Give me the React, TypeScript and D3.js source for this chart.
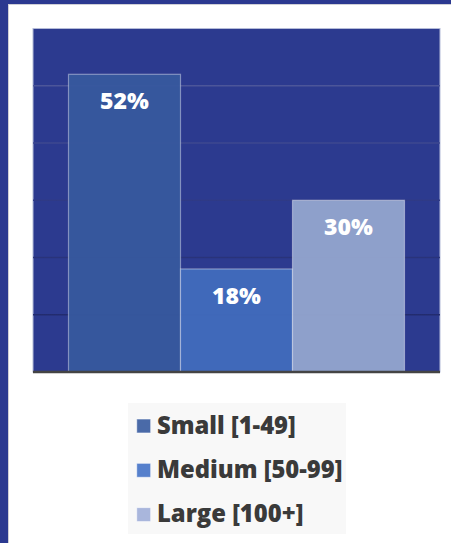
import React from "react";
import * as d3 from "d3";

// Company size share
const categories: string[] = ["Small [1-49]", "Medium [50-99]", "Large [100+]"];
const values: number[] = [52, 18, 30];
const barColors: string[] = ["#37599e", "#416bbd", "#94a5cf"];
const swatchColors: string[] = ["#4a6aa8", "#5680cc", "#a9b6dc"];
const gridTicks: number[] = [10, 20, 30, 40, 50];

const W = 451;
const H = 543;
const plot = { left: 33, right: 440, top: 28.5, bottom: 372 };

export default function App() {
  const x = d3
    .scaleBand<string>()
    .domain(categories)
    .range([plot.left, plot.right])
    .paddingInner(0)
    .paddingOuter(0.317);
  const y = d3.scaleLinear().domain([0, 60]).range([plot.bottom, plot.top]);

  const legendX = 128;
  const legendY = 403;
  const rowH = 44.3;

  return (
    <div style={{ position: "absolute", left: 0, top: 0 }}>
      <svg width={W} height={H} style={{ display: "block" }}>
        <defs>
          <linearGradient id="gridGrad" gradientUnits="userSpaceOnUse" x1="0" y1={plot.top} x2="0" y2={plot.bottom}>
            <stop offset="0" stopColor="#5a63a3" />
            <stop offset="0.5" stopColor="#2f3a86" />
            <stop offset="1" stopColor="#1c2463" />
          </linearGradient>
        </defs>
        {/* page frame */}
        <rect x={0} y={0} width={W} height={H} fill="#2b3990" />
        <rect x={8.5} y={4.5} width={W + 10} height={H + 10} fill="#ffffff" stroke="#cfcfd6" strokeWidth={1} />

        {/* plot background */}
        <rect
          x={plot.left}
          y={plot.top}
          width={plot.right - plot.left}
          height={plot.bottom - plot.top}
          fill="#2c3a8f"
          stroke="#b4bbd8"
          strokeWidth={1}
        />
        {gridTicks.map((t) => (
          <line
            key={t}
            x1={plot.left}
            x2={plot.right}
            y1={y(t)}
            y2={y(t)}
            stroke="url(#gridGrad)"
            strokeWidth={1.5}
          />
        ))}

        {/* bars */}
        {categories.map((c, i) => (
          <g key={c}>
            <rect
              x={x(c)!}
              y={y(values[i])}
              width={x.bandwidth()}
              height={plot.bottom - y(values[i])}
              fill={barColors[i]}
              fillOpacity={0.95}
              stroke="rgba(255,255,255,0.4)"
              strokeWidth={1.2}
            />
            <text
              x={x(c)! + x.bandwidth() / 2}
              y={y(values[i]) + 35}
              textAnchor="middle"
              fill="#ffffff"
              fontFamily="'Open Sans', sans-serif"
              fontWeight={800}
              fontSize={23}
            >
              {values[i]}%
            </text>
          </g>
        ))}

        {/* x axis line */}
        <line x1={plot.left} x2={plot.right} y1={plot.bottom} y2={plot.bottom} stroke="#444444" strokeWidth={2.6} />

        {/* legend */}
        <rect x={legendX} y={legendY} width={218} height={131} fill="#f8f8f8" />
        {categories.map((c, i) => {
          const cy = 426 + i * rowH;
          return (
            <g key={c}>
              <rect
                x={136.7}
                y={cy - 7}
                width={14}
                height={14}
                fill={swatchColors[i]}
                stroke="rgba(255,255,255,0.6)"
                strokeWidth={1}
              />
              <text
                x={157}
                y={cy + 7.5}
                fill="#3a3a3a"
                fontFamily="'Open Sans', sans-serif"
                fontWeight={800}
                fontSize={23.8}
              >
                {c}
              </text>
            </g>
          );
        })}
      </svg>
    </div>
  );
}
